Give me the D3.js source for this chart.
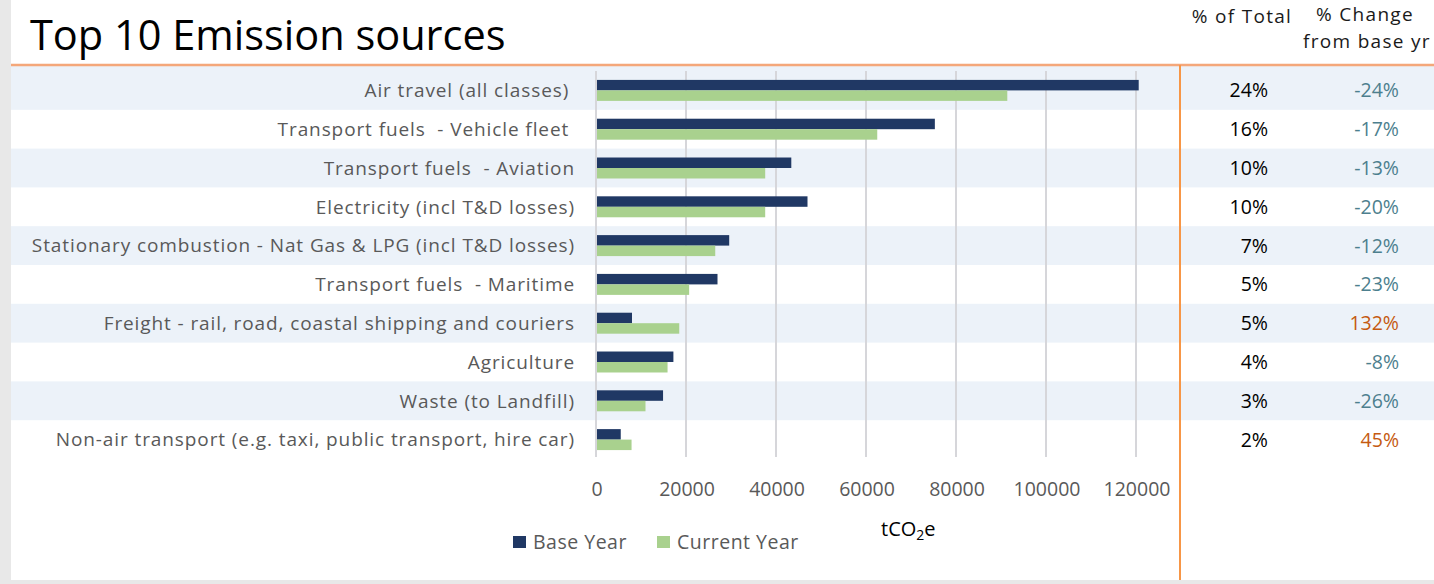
<!DOCTYPE html>
<html>
<head>
<meta charset="utf-8">
<script src="https://cdn.jsdelivr.net/npm/d3@7"></script>
<style>
  body { margin: 0; background: #fff; }
  svg text { font-family: "Open Sans", sans-serif; white-space: pre; }
</style>
</head>
<body>
<svg id="chart" width="1434" height="584"></svg>
<script>
// chart data
const categories = [
    "Air travel (all classes) ",
    "Transport fuels  - Vehicle fleet ",
    "Transport fuels  - Aviation",
    "Electricity (incl T&D losses)",
    "Stationary combustion - Nat Gas & LPG (incl T&D losses)",
    "Transport fuels  - Maritime",
    "Freight - rail, road, coastal shipping and couriers",
    "Agriculture",
    "Waste (to Landfill)",
    "Non-air transport (e.g. taxi, public transport, hire car)"
];
const baseYear = [120600, 75300, 43400, 47000, 29600, 27000, 8000, 17200, 14900, 5500];
const currentYear = [91400, 62500, 37600, 37600, 26500, 20700, 18500, 15900, 11000, 7900];
const pctOfTotal = ["24%", "16%", "10%", "10%", "7%", "5%", "5%", "4%", "3%", "2%"];
const pctChange = ["-24%", "-17%", "-13%", "-20%", "-12%", "-23%", "132%", "-8%", "-26%", "45%"];
const seriesNames = ["Base Year", "Current Year"];
const xTicks = [0, 20000, 40000, 60000, 80000, 100000, 120000];

const colors = { "Base Year": "#203864", "Current Year": "#a9d18e" };
const bandColor = "#ecf2f9";

const svg = d3.select("#chart");
const W = 1434, H = 584;

// frame: grey edges of the slide
svg.append("rect").attr("x", 0).attr("y", 0).attr("width", W).attr("height", H).attr("fill", "#e8e8e8");
svg.append("rect").attr("x", 11).attr("y", 0).attr("width", W - 11).attr("height", 580).attr("fill", "#fff");

const x = d3.scaleLinear().domain([0, 120000]).range([596, 1136]);
const y = d3.scaleBand().domain(categories).range([71, 459]);
const ySub = d3.scaleBand().domain(seriesNames).range([0, y.bandwidth()]).paddingOuter(0.85);

// row bands
svg.append("g").selectAll("rect")
    .data(categories.filter((d, i) => i % 2 === 0))
    .enter().append("rect")
    .attr("x", 11)
    .attr("y", (d, i) => i === 0 ? 66 : y(d))
    .attr("width", W - 11)
    .attr("height", (d, i) => i === 0 ? y(d) + y.bandwidth() - 66 : y.bandwidth())
    .attr("fill", bandColor);

// title
svg.append("text")
    .attr("x", 30).attr("y", 50)
    .attr("font-size", 41.5)
    .attr("fill", "#000")
    .text("Top 10 Emission sources");

// header line
svg.append("line")
    .attr("x1", 11).attr("x2", W).attr("y1", 65).attr("y2", 65)
    .attr("stroke", "#f4a77a").attr("stroke-width", 2.5);

// gridlines
svg.append("g").selectAll("line")
    .data(xTicks)
    .enter().append("line")
    .attr("x1", d => x(d)).attr("x2", d => x(d))
    .attr("y1", 71).attr("y2", 457)
    .attr("stroke", "#d6d6da").attr("stroke-width", 2);

// bars
const series = [
    { name: "Base Year", values: baseYear },
    { name: "Current Year", values: currentYear }
];
series.forEach(s => {
    svg.append("g").selectAll("rect")
        .data(s.values)
        .enter().append("rect")
        .attr("x", x(0) + 1)
        .attr("y", (d, i) => y(categories[i]) + ySub(s.name))
        .attr("width", d => x(d) - x(0) - 1)
        .attr("height", ySub.bandwidth())
        .attr("fill", colors[s.name]);
});

// category labels
svg.append("g").selectAll("text")
    .data(categories)
    .enter().append("text")
    .attr("x", 575)
    .attr("y", d => y(d) + y.bandwidth() / 2)
    .attr("dy", "0.36em")
    .attr("text-anchor", "end")
    .attr("font-size", 19)
    .attr("letter-spacing", 0.9)
    .attr("fill", "#595959")
    .text(d => d);

// x axis tick labels
svg.append("g").selectAll("text")
    .data(xTicks)
    .enter().append("text")
    .attr("x", d => x(d) + 1)
    .attr("y", 496)
    .attr("text-anchor", "middle")
    .attr("font-size", 19.5)
    .attr("fill", "#595959")
    .text(d => d);

// axis title
const axTitle = svg.append("text")
    .attr("x", 881).attr("y", 536)
    .attr("font-size", 20)
    .attr("fill", "#000");
axTitle.append("tspan").text("tCO");
axTitle.append("tspan").attr("font-size", 14).attr("dy", 4).text("2");
axTitle.append("tspan").attr("dy", -4).text("e");

// legend
const legendX = [513, 657];
seriesNames.forEach((name, i) => {
    svg.append("rect")
        .attr("x", legendX[i]).attr("y", 536)
        .attr("width", 13).attr("height", 12)
        .attr("fill", colors[name]);
    svg.append("text")
        .attr("x", legendX[i] + 20).attr("y", 549)
        .attr("font-size", 19.5)
        .attr("letter-spacing", 0.5)
        .attr("fill", "#595959")
        .text(name);
});

// right table
svg.append("line")
    .attr("x1", 1180).attr("x2", 1180).attr("y1", 65).attr("y2", 580)
    .attr("stroke", "#f79646").attr("stroke-width", 2);

const headers = [
    { text: "% of Total", x: 1242, y: 23 },
    { text: "% Change", x: 1365, y: 21 },
    { text: "from base yr", x: 1367, y: 48 }
];
svg.append("g").selectAll("text")
    .data(headers)
    .enter().append("text")
    .attr("x", d => d.x).attr("y", d => d.y)
    .attr("text-anchor", "middle")
    .attr("font-size", 19)
    .attr("letter-spacing", 1.3)
    .attr("fill", "#1a1a1a")
    .text(d => d.text);

svg.append("g").selectAll("text")
    .data(pctOfTotal)
    .enter().append("text")
    .attr("x", 1268)
    .attr("y", (d, i) => y(categories[i]) + y.bandwidth() / 2)
    .attr("dy", "0.36em")
    .attr("text-anchor", "end")
    .attr("font-size", 19.5)
    .attr("fill", "#000")
    .text(d => d);

svg.append("g").selectAll("text")
    .data(pctChange)
    .enter().append("text")
    .attr("x", 1399)
    .attr("y", (d, i) => y(categories[i]) + y.bandwidth() / 2)
    .attr("dy", "0.36em")
    .attr("text-anchor", "end")
    .attr("font-size", 19.5)
    .attr("fill", d => d.startsWith("-") ? "#4d7f8e" : "#c55a11")
    .text(d => d);
</script>
</body>
</html>
